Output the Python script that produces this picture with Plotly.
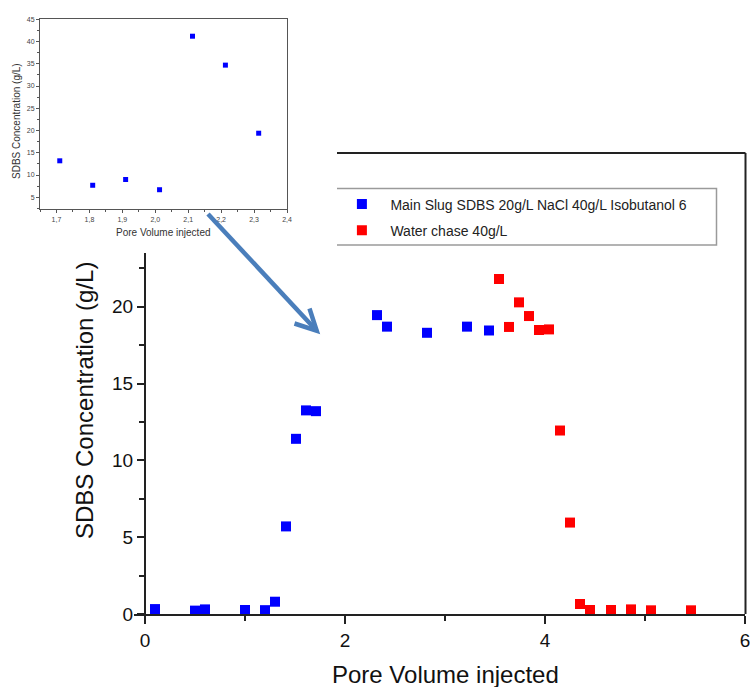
import plotly.graph_objects as go

W, H = 750, 687
FONT = "Liberation Sans, Arial, sans-serif"

# ---------------- data ----------------
slug_name = "Main Slug SDBS 20g/L NaCl 40g/L Isobutanol 6"
slug_x = [0.10, 0.50, 0.60, 1.00, 1.20, 1.30, 1.41, 1.51, 1.61, 1.71, 2.32, 2.42, 2.82, 3.22, 3.44]
slug_y = [0.32, 0.22, 0.30, 0.26, 0.25, 0.80, 5.70, 11.40, 13.25, 13.20, 19.45, 18.70, 18.30, 18.70, 18.45]

chase_name = "Water chase 40g/L"
chase_x = [3.54, 3.64, 3.74, 3.84, 3.94, 4.04, 4.15, 4.25, 4.35, 4.45, 4.66, 4.86, 5.06, 5.46]
chase_y = [21.80, 18.68, 20.28, 19.39, 18.48, 18.52, 11.94, 5.95, 0.65, 0.26, 0.26, 0.30, 0.24, 0.24]

inset_x = [1.71, 1.81, 1.91, 2.013, 2.113, 2.213, 2.314]
inset_y = [13.2, 7.7, 9.0, 6.7, 41.2, 34.7, 19.4]

main_xticks = [0, 2, 4, 6]
main_xminor = [1, 3, 5]
main_yticks = [0, 5, 10, 15, 20]
main_yminor = [2.5, 7.5, 12.5, 17.5, 22.5]
inset_xticks = [1.7, 1.8, 1.9, 2.0, 2.1, 2.2, 2.3, 2.4]
inset_yticks = [5, 10, 15, 20, 25, 30, 35, 40, 45]

x_title = "Pore Volume injected"
y_title = "SDBS Concentration (g/L)"


def px(x):
    return x / W


def py(y):
    return 1 - y / H


fig = go.Figure()

fig.add_trace(go.Scatter(
    x=slug_x, y=slug_y, mode="markers", name=slug_name, legendgroup="a",
    marker=dict(symbol="square", size=10, color="#0000ff", line=dict(width=0)),
    cliponaxis=False, xaxis="x", yaxis="y"))
fig.add_trace(go.Scatter(
    x=chase_x, y=chase_y, mode="markers", name=chase_name, legendgroup="b",
    marker=dict(symbol="square", size=10, color="#ff0000", line=dict(width=0)),
    cliponaxis=False, xaxis="x", yaxis="y"))
fig.add_trace(go.Scatter(
    x=inset_x, y=inset_y, mode="markers", showlegend=False,
    marker=dict(symbol="square", size=5, color="#0000ff", line=dict(width=0)),
    cliponaxis=False, xaxis="x2", yaxis="y2"))

line_c = "#222222"
inset_c = "#555555"

fig.update_layout(
    template="none",
    width=W, height=H,
    margin=dict(l=0, r=0, t=0, b=0, pad=0, autoexpand=False),
    paper_bgcolor="white", plot_bgcolor="rgba(0,0,0,0)",
    font=dict(family=FONT, color="#111111"),
    separators=",.",
    showlegend=True,
    legend=dict(
        x=px(333.4), y=py(188.5), xanchor="left", yanchor="top",
        bgcolor="rgba(0,0,0,0)", borderwidth=0,
        font=dict(family=FONT, size=14, color="#222222"),
        itemwidth=47, tracegroupgap=5, traceorder="grouped",
    ),
    xaxis=dict(
        domain=[px(134), px(745)], range=[-0.11, 6], anchor="y", automargin=False,
        showgrid=False, zeroline=False, ticklabeloverflow="allow",
        showline=True, linecolor=line_c, linewidth=2,
        tickmode="array", tickvals=main_xticks, ticktext=[str(v) for v in main_xticks],
        ticks="outside", ticklen=8, tickwidth=2, tickcolor=line_c,
        tickfont=dict(size=19, family=FONT, color="#111111"),
        minor=dict(tickmode="array", tickvals=main_xminor, ticks="outside",
                   ticklen=5, tickwidth=2, tickcolor=line_c, showgrid=False),
    ),
    yaxis=dict(
        domain=[py(614), py(153)], range=[0, 30], anchor="free", position=px(145),
        automargin=False, ticklabeloverflow="allow",
        showgrid=False, zeroline=False, showline=False,
        tickmode="array", tickvals=main_yticks, ticktext=[str(v) for v in main_yticks],
        ticks="outside", ticklen=8, tickwidth=2, tickcolor=line_c,
        tickfont=dict(size=19, family=FONT, color="#111111"),
        minor=dict(tickmode="array", tickvals=main_yminor, ticks="outside",
                   ticklen=6, tickwidth=2, tickcolor=line_c, showgrid=False),
    ),
    xaxis2=dict(
        domain=[px(40), px(287)], range=[1.65, 2.4], anchor="y2", automargin=False,
        showgrid=False, zeroline=False, ticklabeloverflow="allow",
        showline=True, mirror=True, linecolor=inset_c, linewidth=1,
        tickmode="array", tickvals=inset_xticks, tickformat=".1f",
        ticks="outside", ticklen=3, tickwidth=1, tickcolor=inset_c,
        tickfont=dict(size=7, family=FONT, color="#444444"),
        minor=dict(dtick=0.05, tick0=1.65, ticks="outside", ticklen=2,
                   tickwidth=1, tickcolor=inset_c, showgrid=False),
    ),
    yaxis2=dict(
        domain=[py(209.3), py(19.3)], range=[2.3, 45], anchor="x2", automargin=False,
        showgrid=False, zeroline=False, ticklabeloverflow="allow",
        showline=True, mirror=True, linecolor=inset_c, linewidth=1,
        tickmode="array", tickvals=inset_yticks,
        ticks="outside", ticklen=3, tickwidth=1, tickcolor=inset_c,
        tickfont=dict(size=7, family=FONT, color="#444444"),
        minor=dict(dtick=2.5, tick0=0, ticks="outside", ticklen=2,
                   tickwidth=1, tickcolor=inset_c, showgrid=False),
    ),
)

shapes = []
# main left spine (only visible part)
shapes.append(dict(type="line", xref="x", yref="y", x0=0, x1=0, y0=0, y1=23.5,
                   line=dict(color=line_c, width=2)))
# frame top and right
shapes.append(dict(type="line", xref="paper", yref="paper", x0=px(337), x1=px(745.5),
                   y0=py(153), y1=py(153), line=dict(color=line_c, width=2)))
shapes.append(dict(type="line", xref="paper", yref="paper", x0=px(745.5), x1=px(745.5),
                   y0=py(153), y1=py(614), line=dict(color=line_c, width=2)))
# legend box (left side hidden behind the inset)
lg = "#9a9a9a"
shapes.append(dict(type="path", xref="paper", yref="paper",
                   path=f"M {px(337)},{py(188.5)} L {px(716.5)},{py(188.5)} L {px(716.5)},{py(245)} L {px(337)},{py(245)}",
                   line=dict(color=lg, width=1.5)))
# arrow from inset to main plot
ac = "#4a7ebb"
tip = (316.7, 330.7)
shapes.append(dict(type="path", xref="paper", yref="paper",
                   path=f"M {px(208)},{py(214)} L {px(tip[0])},{py(tip[1])}",
                   line=dict(color=ac, width=4.5)))
shapes.append(dict(type="path", xref="paper", yref="paper",
                   path=f"M {px(294.5)},{py(323.5)} L {px(tip[0])},{py(tip[1])} L {px(309.5)},{py(308.5)}",
                   line=dict(color=ac, width=4.5)))
fig.update_layout(shapes=shapes)

annotations = [
    dict(text=x_title, xref="paper", yref="paper", x=px(445), y=py(674),
         xanchor="center", yanchor="middle", showarrow=False,
         font=dict(family=FONT, size=24, color="#111111")),
    dict(text=y_title, xref="paper", yref="paper", x=px(84), y=py(401),
         xanchor="center", yanchor="middle", showarrow=False, textangle=-90,
         font=dict(family=FONT, size=24, color="#111111")),
    dict(text=x_title, xref="paper", yref="paper", x=px(163.5), y=py(233),
         xanchor="center", yanchor="middle", showarrow=False,
         font=dict(family=FONT, size=10, color="#333333")),
    dict(text=y_title, xref="paper", yref="paper", x=px(16), y=py(121),
         xanchor="center", yanchor="middle", showarrow=False, textangle=-90,
         font=dict(family=FONT, size=10, color="#333333")),
]
fig.update_layout(annotations=annotations)

fig.write_html("out.html", config={"displayModeBar": False},
               post_script="document.body.style.margin='0px';")
